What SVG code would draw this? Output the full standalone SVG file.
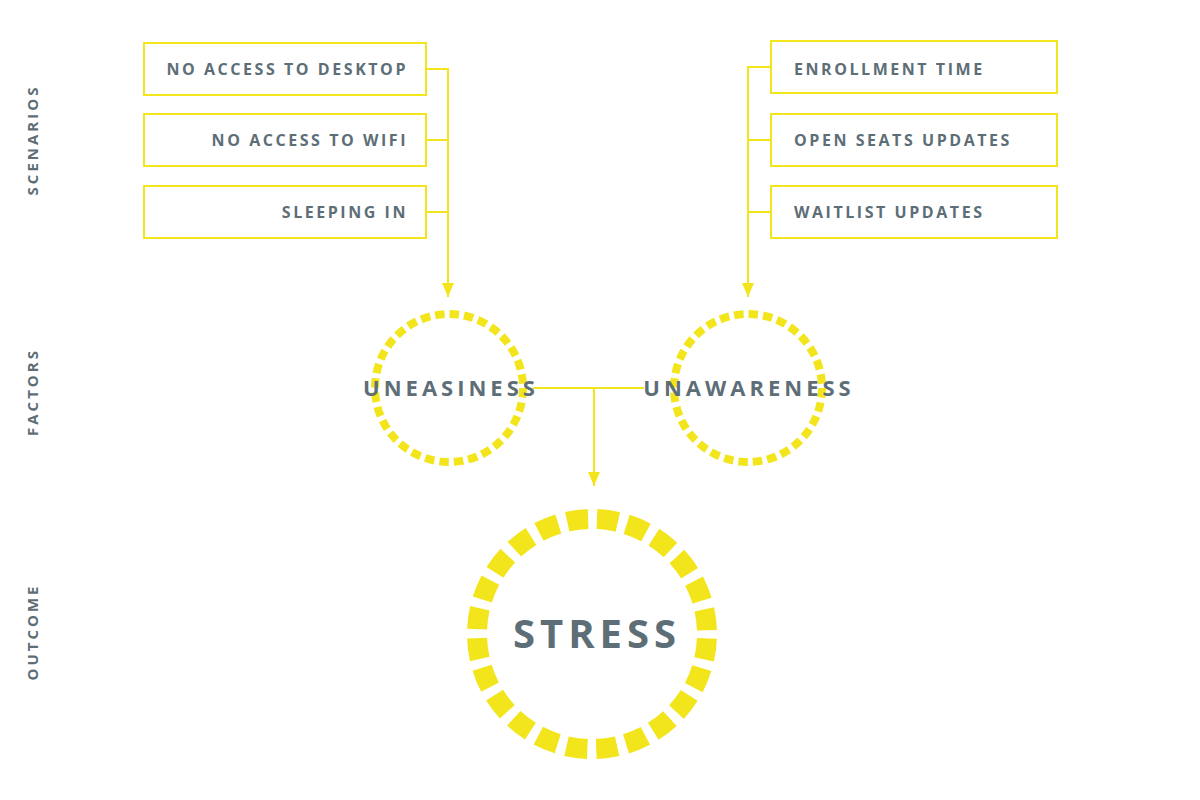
<svg xmlns="http://www.w3.org/2000/svg" width="1200" height="800" viewBox="0 0 1200 800">
<style>
.box{fill:#fff;stroke:#f3e51c;stroke-width:2}
.bt{font-family:"Open Sans",sans-serif;font-weight:700;font-size:16px;letter-spacing:2.55px;fill:#5d6e77}
.side{font-family:"Open Sans",sans-serif;font-weight:700;font-size:15px;letter-spacing:3px;fill:#5d6e77}
.ft{font-family:"Open Sans",sans-serif;font-weight:700;font-size:22px;letter-spacing:4px;fill:#5d6e77}
.conn{fill:none;stroke:#f3e51c;stroke-width:2}
.ring{fill:#fff;stroke:#f3e51c}
</style>
<defs>
<marker id="ah" viewBox="0 0 14 12" refX="14" refY="6" markerWidth="14" markerHeight="12" markerUnits="userSpaceOnUse" orient="auto">
<path d="M0,0 L14,6 L0,12 Z" fill="#f3e51c"/>
</marker>
</defs>
<rect width="1200" height="800" fill="#fff"/>
<g id="labels">
<text class="side" transform="translate(38,140) rotate(-90)" text-anchor="middle">SCENARIOS</text>
<text class="side" transform="translate(38,392) rotate(-90)" text-anchor="middle">FACTORS</text>
<text class="side" transform="translate(38,632) rotate(-90)" text-anchor="middle">OUTCOME</text>
</g>
<g id="connectors">
<path class="conn" d="M426,69 H448 V297" marker-end="url(#ah)"/>
<path class="conn" d="M426,140 H448"/>
<path class="conn" d="M426,212 H448"/>
<path class="conn" d="M771,67 H748 V297" marker-end="url(#ah)"/>
<path class="conn" d="M771,140 H748"/>
<path class="conn" d="M771,212 H748"/>
<path class="conn" d="M533,388 H644"/>
<path class="conn" d="M594,388 V486" marker-end="url(#ah)"/>
</g>
<g id="s1"><rect class="box" x="144" y="43" width="282" height="52"/><text class="bt" x="408" y="74.5" text-anchor="end">NO ACCESS TO DESKTOP</text></g>
<g id="s2"><rect class="box" x="144" y="114" width="282" height="52"/><text class="bt" x="408" y="145.5" text-anchor="end">NO ACCESS TO WIFI</text></g>
<g id="s3"><rect class="box" x="144" y="186" width="282" height="52"/><text class="bt" x="408" y="217.5" text-anchor="end">SLEEPING IN</text></g>
<g id="s4"><rect class="box" x="771" y="41" width="286" height="52"/><text class="bt" x="794" y="74.5">ENROLLMENT TIME</text></g>
<g id="s5"><rect class="box" x="771" y="114" width="286" height="52"/><text class="bt" x="794" y="145.5">OPEN SEATS UPDATES</text></g>
<g id="s6"><rect class="box" x="771" y="186" width="286" height="52"/><text class="bt" x="794" y="217.5">WAITLIST UPDATES</text></g>
<g id="uneasiness"><circle class="ring" cx="449" cy="388" r="74" stroke-width="8" stroke-dasharray="9.5 5.03"/><text class="ft" x="451" y="396" text-anchor="middle">UNEASINESS</text></g>
<g id="unawareness"><circle class="ring" cx="748" cy="388" r="74" stroke-width="8" stroke-dasharray="9.5 5.03"/><text class="ft" x="749" y="396" text-anchor="middle">UNAWARENESS</text></g>
<g id="stress"><circle class="ring" cx="592" cy="634" r="115" stroke-width="20" stroke-dasharray="21 9.107" stroke-dashoffset="25.55"/><text x="597" y="648" text-anchor="middle" font-family="Open Sans, sans-serif" font-weight="700" font-size="40" letter-spacing="5" fill="#5d6e77">STRESS</text></g>
</svg>
